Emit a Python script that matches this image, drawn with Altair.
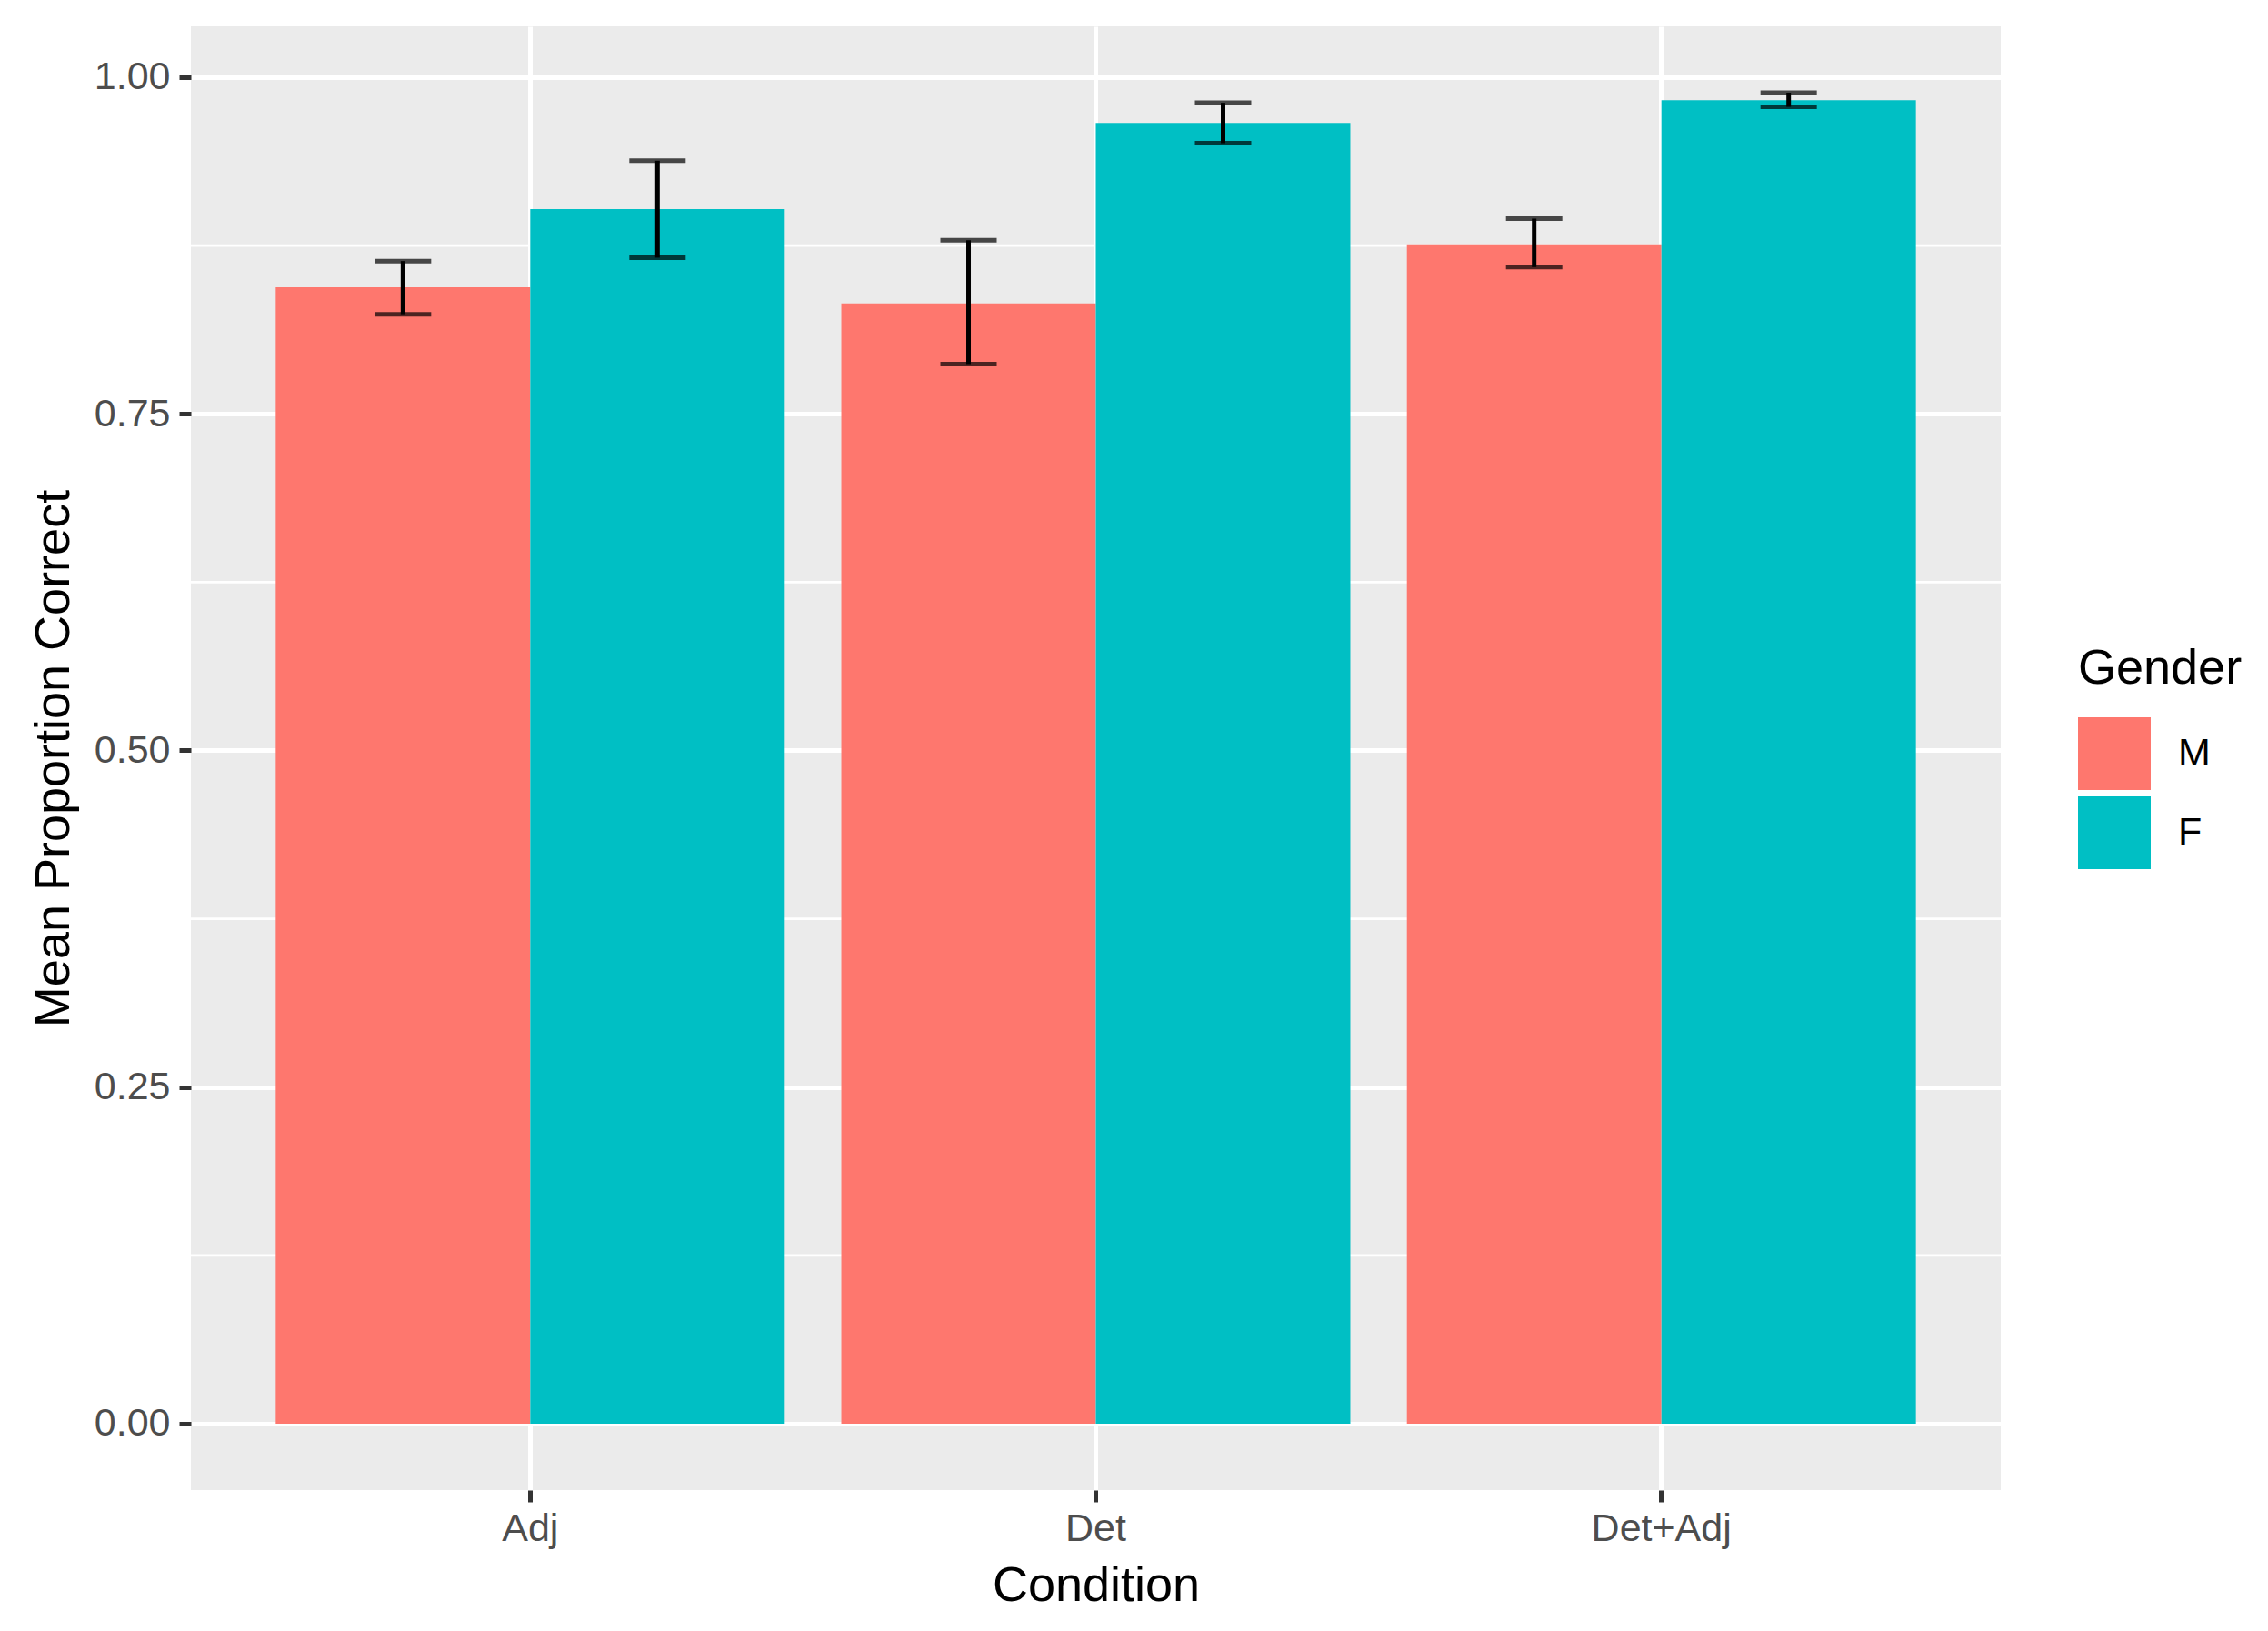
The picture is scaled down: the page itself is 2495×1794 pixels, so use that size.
import altair as alt
import pandas as pd

conditions = ["Adj", "Det", "Det+Adj"]
genders = ["M", "F"]
mean_m = [0.844, 0.832, 0.876]
mean_f = [0.902, 0.966, 0.983]
lower_m = [0.824, 0.787, 0.859]
upper_m = [0.8635, 0.879, 0.895]
lower_f = [0.866, 0.951, 0.978]
upper_f = [0.938, 0.981, 0.9885]
y_ticks = [0.0, 0.25, 0.5, 0.75, 1.0]
y_minor = [0.125, 0.375, 0.625, 0.875]
colors = ["#FE776E", "#00BFC4"]

rows = []
for i, c in enumerate(conditions):
    rows.append({"Condition": c, "Gender": "M", "mean": mean_m[i], "lower": lower_m[i], "upper": upper_m[i]})
    rows.append({"Condition": c, "Gender": "F", "mean": mean_f[i], "lower": lower_f[i], "upper": upper_f[i]})
df = pd.DataFrame(rows)
minor_df = pd.DataFrame({"v": y_minor})

FONT = "Liberation Sans"
ydom = [-0.0493, 1.0378]

x_enc = alt.X("Condition:N", sort=conditions,
              scale=alt.Scale(paddingInner=0.1, paddingOuter=0.15),
              axis=alt.Axis(title="Condition", labelAngle=0, labelFontSize=43,
                            labelColor="#4D4D4D", titleFontSize=54, titleColor="black",
                            titleFontWeight="normal", tickColor="#333333", tickSize=13,
                            tickWidth=5, domain=False, grid=True, gridColor="white", gridWidth=5,
                            labelPadding=8, titlePadding=14, labelFont=FONT, titleFont=FONT))
xo_enc = alt.XOffset("Gender:N", sort=genders, scale=alt.Scale(domain=genders, paddingInner=0, paddingOuter=0))
y_scale = alt.Scale(domain=ydom, nice=False, zero=False)
y_axis = alt.Axis(values=y_ticks, format=".2f", title="Mean Proportion Correct",
                  labelFontSize=43, labelColor="#4D4D4D", titleFontSize=54,
                  titleColor="black", titleFontWeight="normal", tickColor="#333333",
                  tickSize=13, tickWidth=5, domain=False, gridColor="white",
                  gridWidth=5, labelPadding=10, titlePadding=17,
                  labelFont=FONT, titleFont=FONT)

minor = alt.Chart(minor_df).mark_rule(color="white", strokeWidth=2.7).encode(
    y=alt.Y("v:Q", scale=y_scale, axis=y_axis)
)

bars = alt.Chart(df).mark_bar().encode(
    x=x_enc,
    xOffset=xo_enc,
    y=alt.Y("mean:Q", scale=y_scale, axis=y_axis),
    y2=alt.datum(0),
    color=alt.Color("Gender:N", sort=genders,
                    scale=alt.Scale(domain=genders, range=colors),
                    legend=alt.Legend(title="Gender", orient="none", legendX=2076, legendY=680,
                                      titleFontSize=54, titleFontWeight="normal", titleColor="black",
                                      titleFont=FONT, labelFont=FONT, labelFontSize=43,
                                      labelColor="black", symbolType="square", symbolSize=6400,
                                      symbolStrokeWidth=0, symbolOpacity=1, rowPadding=7,
                                      labelOffset=30, titlePadding=26, padding=0,
                                      titleLimit=1000, labelLimit=1000)),
)

rule = alt.Chart(df).mark_rule(color="black", strokeWidth=5).encode(
    x="Condition:N", xOffset=xo_enc,
    y=alt.Y("lower:Q", scale=y_scale), y2="upper:Q"
)
cap_lo = alt.Chart(df).mark_tick(color="black", size=62, thickness=5, orient="horizontal").encode(
    x="Condition:N", xOffset=xo_enc, y=alt.Y("lower:Q", scale=y_scale)
)
cap_hi = alt.Chart(df).mark_tick(color="black", size=62, thickness=5, orient="horizontal").encode(
    x="Condition:N", xOffset=xo_enc, y=alt.Y("upper:Q", scale=y_scale)
)

chart = alt.layer(minor, bars, rule, cap_lo, cap_hi).properties(
    width=1991, height=1610,
    autosize=alt.AutoSizeParams(type="none"),
    padding={"left": 202, "top": 21, "right": 270, "bottom": 140},
).configure(font=FONT).configure_view(fill="#EBEBEB", strokeWidth=0)

chart.save("out.html", embed_options={"renderer": "svg", "actions": False})
